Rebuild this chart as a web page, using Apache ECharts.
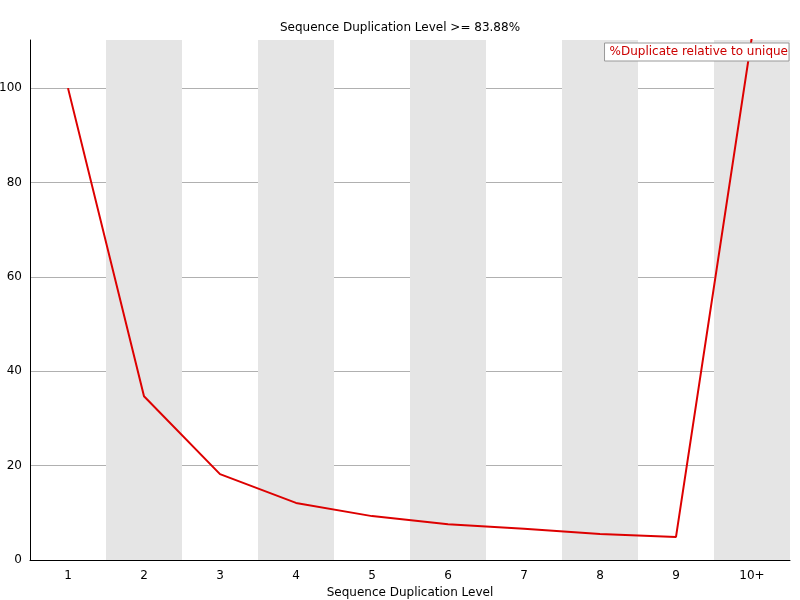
<!DOCTYPE html>
<html><head><meta charset="utf-8">
<script src="https://cdn.jsdelivr.net/npm/echarts@6/dist/echarts.min.js"></script>
<style>html,body{margin:0;padding:0;background:#fff}#c{width:800px;height:600px}</style>
</head><body><div id="c"></div>
<script>
const categories = ['1','2','3','4','5','6','7','8','9','10+'];
const dupValues = [100, 34.7, 18.2, 12.1, 9.3, 7.6, 6.6, 5.5, 4.9, 111];
const yTicks = [0, 20, 40, 60, 80, 100];
const chart = echarts.init(document.getElementById('c'));
const F = 'DejaVu Sans';
chart.setOption({
  animation: false,
  textStyle: {fontFamily: F},
  title: {text: 'Sequence Duplication Level >= 83.88%', left: 'center', top: 17,
    textStyle: {fontSize: 12, fontWeight: 'normal', color: '#000', fontFamily: F}},
  legend: {right: 11, top: 43, itemWidth: 0, itemHeight: 0, icon: 'none', itemGap: 0,
    backgroundColor: '#fff', z: 10,
    borderColor: '#999', borderWidth: 1, padding: [3, 1, 3, 0], borderRadius: 0,
    textStyle: {color: '#cc0000', fontSize: 12, fontFamily: F, padding: 0},
    data: ['%Duplicate relative to unique']},
  grid: {left: 30, right: 10, top: 40, bottom: 40, containLabel: false, outerBoundsMode: 'none'},
  xAxis: {type: 'category', data: categories, boundaryGap: true,
    name: 'Sequence Duplication Level', nameLocation: 'middle', nameGap: 25,
    nameTextStyle: {color: '#000', fontSize: 12, fontFamily: F},
    axisLine: {lineStyle: {color: '#000'}}, axisTick: {show: false},
    axisLabel: {color: '#000', fontSize: 12, fontFamily: F, margin: 10},
    splitArea: {show: true, areaStyle: {color: ['rgba(0,0,0,0)', '#e5e5e5']}}},
  yAxis: {type: 'value', min: 0, max: 110.2, interval: 20,
    axisLine: {show: true, lineStyle: {color: '#000'}}, axisTick: {show: false},
    axisLabel: {color: '#000', fontSize: 12, fontFamily: F, margin: 8, showMaxLabel: false,
      formatter: v => yTicks.includes(v) ? String(v) : ''},
    splitLine: {showMaxLine: false, lineStyle: {color: '#b0b0b0'}}},
  series: [{name: '%Duplicate relative to unique', type: 'line', data: dupValues,
    clip: true, showSymbol: false, symbol: 'none', color: '#dd0000',
    lineStyle: {color: '#dd0000', width: 2}}]
});
</script></body></html>
